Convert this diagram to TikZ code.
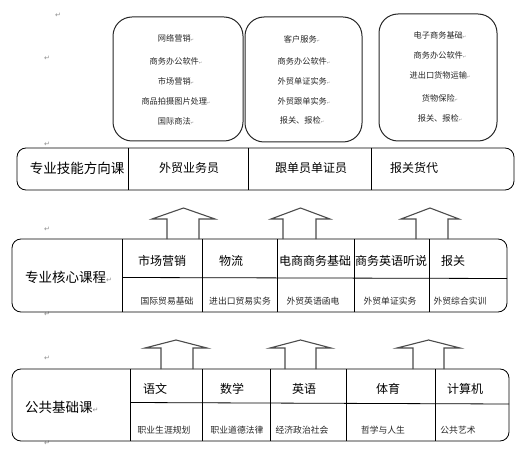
\documentclass[tikz,border=0pt]{standalone}
\usepackage{fontspec}
\newfontfamily\cjk{Noto Sans CJK SC}
\newfontfamily\sym{DejaVu Sans}
\newcommand{\parmk}{{\sym\fontsize{7}{7}\selectfont\textcolor{black!45}{↵}}}
\newcommand{\tparmk}{{\sym\fontsize{4}{4}\selectfont\textcolor{black!45}{↵}}}
\begin{document}
\begin{tikzpicture}[x=1pt,y=-1pt,
  rowbox/.style={draw=black, line width=0.8pt, rounded corners=9pt, inner sep=0pt},
  topbox/.style={draw=black!85, line width=1pt, rounded corners=19pt, inner sep=0pt},
  divline/.style={draw=black, line width=0.8pt},
  blockarrow/.style={draw=black!70, line width=1.1pt, line join=miter},
  biglabel/.style={font=\cjk\fontsize{13.5}{14}\selectfont, inner sep=0pt},
  headtxt/.style={font=\cjk\fontsize{12}{13}\selectfont, inner sep=0pt},
  smalltxt/.style={font=\cjk\fontsize{8.8}{9}\selectfont, inner sep=0pt, text=black!85},
  tinytxt/.style={font=\cjk\fontsize{8.2}{9}\selectfont, inner sep=0pt, text=black!85},
  pmark/.style={font=\sym\fontsize{7}{7}\selectfont, text=black!45, inner sep=0pt}
]
\useasboundingbox (0,0) rectangle (530,473);

% ---- top boxes
\node[topbox, minimum width=130pt, minimum height=124pt] (b1) at (178,79) {};
\node[topbox, minimum width=117pt, minimum height=125pt] (b2) at (303.5,79.5) {};
\node[topbox, minimum width=118pt, minimum height=127pt] (b3) at (438,77.5) {};

\node[tinytxt] (b1a) at (176,38) {网络营销\tparmk};
\node[tinytxt] (b1b) at (176,61) {商务办公软件\tparmk};
\node[tinytxt] (b1c) at (176,81) {市场营销\tparmk};
\node[tinytxt] (b1d) at (176,101) {商品拍摄图片处理\tparmk};
\node[tinytxt] (b1e) at (176,121) {国际商法\tparmk};

\node[tinytxt] (b2a) at (302,39) {客户服务\tparmk};
\node[tinytxt] (b2b) at (304,61) {商务办公软件\tparmk};
\node[tinytxt] (b2c) at (304,81) {外贸单证实务\tparmk};
\node[tinytxt] (b2d) at (304,101) {外贸跟单实务\tparmk};
\node[tinytxt] (b2e) at (302,120) {报关、报检\tparmk};

\node[tinytxt] (b3a) at (440,35) {电子商务基础\tparmk};
\node[tinytxt] (b3b) at (440,55) {商务办公软件\tparmk};
\node[tinytxt] (b3c) at (440,75) {进出口货物运输\tparmk};
\node[tinytxt] (b3d) at (440,98) {货物保险\tparmk};
\node[tinytxt] (b3e) at (440,118) {报关、报检\tparmk};

% ---- paragraph marks
\node[pmark] (p1) at (58,15) {↵};
\node[pmark] (p2) at (47,58) {↵};
\node[pmark] (p3) at (47,144) {↵};
\node[pmark] (p4) at (47,229) {↵};
\node[pmark] (p5) at (47,314) {↵};
\node[pmark] (p6) at (47,358) {↵};
\node[pmark] (p7) at (47,443) {↵};

% ---- row 1
\node[rowbox, minimum width=497pt, minimum height=42pt] (r1) at (265.5,169) {};
\draw[divline] (128,148) -- (128,190);
\draw[divline] (248,148) -- (248,190);
\draw[divline] (371,148) -- (371,190);
\node[biglabel] (r1l) at (77,168) {专业技能方向课};
\node[headtxt] (r1a) at (189,168) {外贸业务员};
\node[headtxt] (r1b) at (311,168) {跟单员单证员};
\node[headtxt] (r1c) at (414,168) {报关货代};

% ---- row 2
\node[rowbox, minimum width=495pt, minimum height=73pt] (r2) at (259.5,275.5) {};
\foreach \x in {122,202,277,354,429} \draw[divline] (\x,239) -- (\x,312);
\draw[divline] (122,277.5) -- (507,278.5);
\node[biglabel, anchor=west] (r2l) at (25,277) {专业核心课程\parmk};
\node[headtxt] (r2a) at (162,261) {市场营销};
\node[headtxt] (r2b) at (231,261) {物流};
\node[headtxt] (r2c) at (315,261) {电商商务基础};
\node[headtxt] (r2d) at (391,261) {商务英语听说};
\node[headtxt] (r2e) at (453,261) {报关};
\node[smalltxt] (r2f) at (167,301) {国际贸易基础};
\node[smalltxt] (r2g) at (240,301) {进出口贸易实务};
\node[smalltxt] (r2h) at (313,301) {外贸英语函电};
\node[smalltxt] (r2i) at (390,301) {外贸单证实务};
\node[smalltxt] (r2j) at (460,301) {外贸综合实训};

% ---- row 3
\node[rowbox, minimum width=497pt, minimum height=72pt] (r3) at (260.5,405) {};
\foreach \x in {130,202,270,346,435} \draw[divline] (\x,369) -- (\x,441);
\draw[divline] (130,402.5) -- (509,404);
\node[biglabel, anchor=west] (r3l) at (25,407) {公共基础课\parmk};
\node[headtxt] (r3a) at (155,389) {语文};
\node[headtxt] (r3b) at (232,389) {数学};
\node[headtxt] (r3c) at (304,389) {英语};
\node[headtxt] (r3d) at (388,389) {体育};
\node[headtxt] (r3e) at (465,389) {计算机};
\node[smalltxt] (r3f) at (164,430) {职业生涯规划};
\node[smalltxt] (r3g) at (237,430) {职业道德法律};
\node[smalltxt] (r3h) at (302,430) {经济政治社会};
\node[smalltxt] (r3i) at (383,430) {哲学与人生};
\node[smalltxt] (r3j) at (458,430) {公共艺术};

% ---- block arrows row2 -> row1
\draw[blockarrow] (167,239) -- (167,219) -- (152,219) -- (183.5,208) -- (215,219) -- (199,219) -- (199,239);
\draw[blockarrow] (283,239) -- (283,219) -- (271,219) -- (300.5,208) -- (330,219) -- (316,219) -- (316,239);
\draw[blockarrow] (416,239) -- (416,219) -- (401,219) -- (430,208) -- (459,219) -- (448,219) -- (448,239);

% ---- block arrows row3 -> row2
\draw[blockarrow] (161,369) -- (161,348) -- (145,348) -- (176,340) -- (207,348) -- (193,348) -- (193,369);
\draw[blockarrow] (285,369) -- (285,348) -- (270,348) -- (300.5,340) -- (331,348) -- (316,348) -- (316,369);
\draw[blockarrow] (413,369) -- (413,348) -- (397,348) -- (428.5,340) -- (460,348) -- (444,348) -- (444,369);
\end{tikzpicture}
\end{document}
